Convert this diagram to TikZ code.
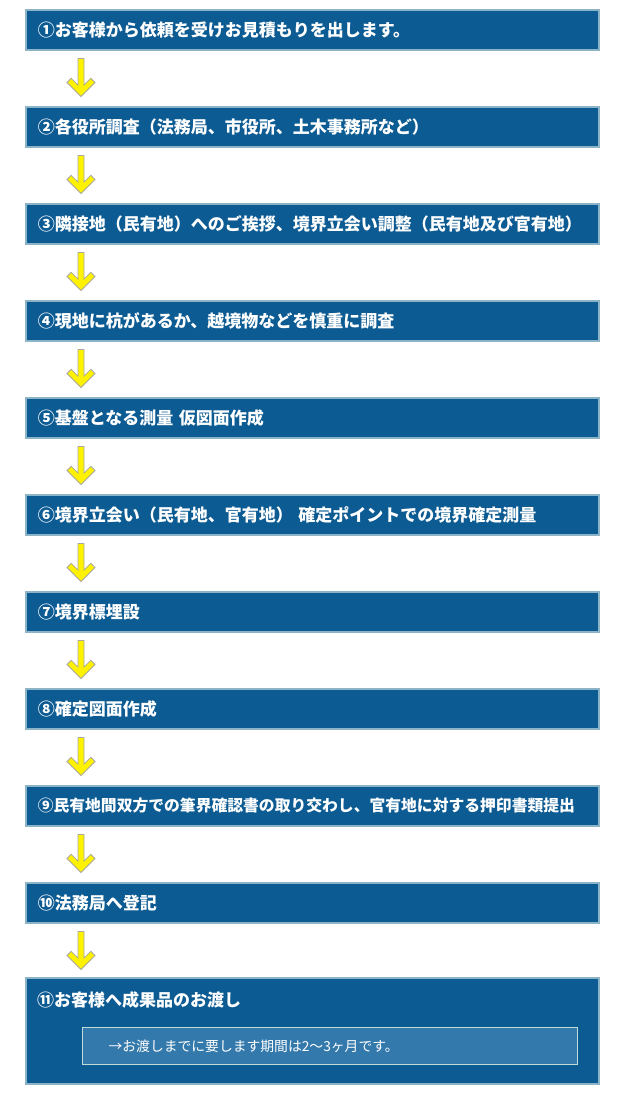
\documentclass[tikz,border=0pt]{standalone}
\usepackage{fontspec}
\newfontfamily\jpfont{Noto Sans CJK JP}
\definecolor{stepblue}{HTML}{0C5B93}
\definecolor{stepedge}{HTML}{8DB3C6}
\definecolor{noteblue}{HTML}{3479AC}
\definecolor{noteedge}{HTML}{BFDDD6}
\definecolor{arrowgray}{HTML}{A8A8A0}
\begin{document}
\begin{tikzpicture}[x=1pt, y=-1pt,
  stepbox/.style={anchor=north west, fill=stepblue, draw=stepedge, line width=1.5pt, minimum width=573pt, minimum height=40pt, text width=549pt, inner xsep=12pt, align=left, text=white, font=\jpfont\bfseries\fontsize{17}{19}\selectfont},
  steptext/.style={text=white, inner sep=0pt, font=\jpfont\bfseries\fontsize{17}{19}\selectfont},
  notebox/.style={anchor=north west, fill=noteblue, draw=noteedge, line width=1.2pt, minimum width=495pt, minimum height=37pt, text width=443pt, inner xsep=26pt, align=left, text=white, font=\jpfont\fontsize{13.8}{15}\selectfont},
  yarrow/.style={fill=yellow, draw=arrowgray, line width=0.8pt, line join=miter}]
\useasboundingbox (0,0) rectangle (630,1100);

\node[stepbox] (b1) at (25,9) {①お客様から依頼を受けお見積もりを出します。};
\node[stepbox] (b2) at (25,106) {②各役所調査（法務局、市役所、土木事務所など）};
\node[stepbox] (b3) at (25,203) {③隣接地（民有地）へのご挨拶、境界立会い調整（民有地及び官有地）};
\node[stepbox] (b4) at (25,300) {④現地に杭があるか、越境物などを慎重に調査};
\node[stepbox] (b5) at (25,397) {⑤基盤となる測量 仮図面作成};
\node[stepbox] (b6) at (25,494) {⑥境界立会い（民有地、官有地） 確定ポイントでの境界確定測量};
\node[stepbox] (b7) at (25,591) {⑦境界標埋設};
\node[stepbox] (b8) at (25,688) {⑧確定図面作成};
\node[stepbox, font=\jpfont\bfseries\fontsize{15.8}{19}\selectfont] (b9) at (25,785) {⑨民有地間双方での筆界確認書の取り交わし、官有地に対する押印書類提出};
\node[stepbox] (b10) at (25,882) {⑩法務局へ登記};
\node[stepbox, minimum height=106pt] (b11) at (25,977) {};
\node[steptext, anchor=west] (t11) at ([xshift=12pt,yshift=-23pt]b11.north west) {⑪お客様へ成果品のお渡し};
\node[notebox] (n11) at (82,1027) {→お渡しまでに要します期間は2〜3ヶ月です。};

% yellow arrows between the steps
\foreach \i in {1,...,10}
  \draw[yarrow] ([xshift=53pt,yshift=-8pt]b\i.south west) -- ++(6,0) -- ++(0,26.6) -- ++(6.8,-6.8) -- ++(4.2,4.2)
    -- ++(-14,14) -- ++(-14,-14) -- ++(4.2,-4.2) -- ++(6.8,6.8) -- cycle;
\end{tikzpicture}
\end{document}
